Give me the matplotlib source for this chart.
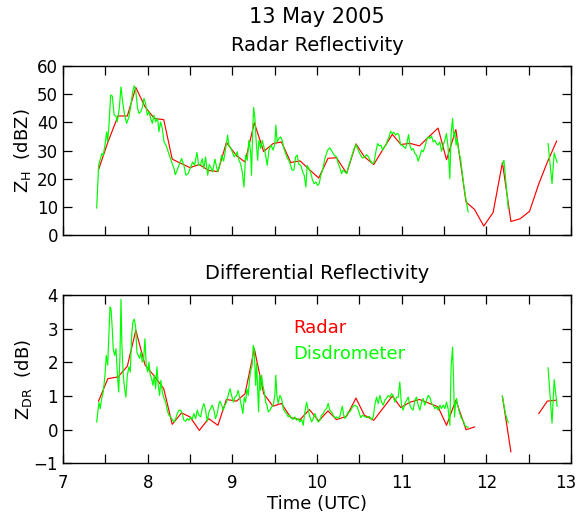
import numpy as np
import matplotlib
matplotlib.use("Agg")
import matplotlib.pyplot as plt
from matplotlib.ticker import MultipleLocator
from matplotlib.transforms import ScaledTranslation

nan = np.nan

# radar volume times (UTC hours) and values
radar_t = [7.42, 7.53, 7.65, 7.76, 7.86, 7.97, 8.08, 8.19, 8.29, 8.40,
           8.50, 8.61, 8.72, 8.83, 8.93, 9.05, 9.15, 9.26, 9.37, 9.48,
           9.58, 9.69, 9.80, 9.91, 10.02, 10.13, 10.23, 10.35, 10.46, 10.56,
           10.67, 10.78, 10.89, 10.99, 11.10, 11.21, 11.32, 11.43, 11.53, 11.64,
           11.76, 11.86, 11.97, 12.08, 12.19, 12.29, 12.40, 12.51, 12.62, 12.72,
           12.83]
radar_zh = [23.3, 33.0, 42.3, 42.3, 52.4, 45.5, 41.4, 41.0, 27.0, 25.4,
            24.0, 25.1, 23.0, 22.6, 32.9, 28.2, 26.0, 39.9, 29.7, 32.5,
            33.1, 25.8, 26.4, 23.3, 20.3, 27.3, 27.5, 22.0, 32.4, 27.8,
            25.1, 30.5, 35.8, 32.2, 32.6, 31.7, 34.9, 38.0, 26.8, 37.5,
            11.8, 9.2, 3.3, 8.1, 25.8, 4.9, 5.9, 8.5, 18.3, 25.9,
            33.4]
radar_zdr = [0.85, 1.52, 1.57, 1.89, 2.96, 1.92, 1.59, 1.22, 0.16, 0.50,
             0.38, -0.02, 0.33, 0.13, 0.90, 0.85, 1.07, 2.41, 1.07, 0.70,
             0.78, 0.36, 0.30, 0.60, 0.26, 0.56, 0.30, 0.40, 0.94, 0.43,
             0.28, 0.64, 1.00, 0.66, 0.82, 0.90, 0.79, 0.68, 0.13, 0.88,
             0.00, 0.08, nan, nan, 0.99, -0.66, nan, nan, 0.48, 0.85,
             0.88]

# disdrometer Z_H
dis_t_zh = [7.398, 7.421, 7.437, 7.460, 7.475, 7.496, 7.516, 7.528, 7.543, 7.563,
            7.582, 7.605, 7.626, 7.641, 7.665, 7.685, 7.705, 7.728, 7.752, 7.779,
            7.799, 7.823, 7.842, 7.858, 7.881, 7.898, 7.918, 7.936, 7.956, 7.976,
            7.995, 8.015, 8.036, 8.055, 8.074, 8.094, 8.118, 8.133, 8.153, 8.173,
            8.193, 8.216, 8.236, 8.263, 8.290, 8.311, 8.326, 8.349, 8.373, 8.401,
            8.428, 8.452, 8.479, 8.508, 8.531, 8.554, 8.582, 8.602, 8.626, 8.644,
            8.664, 8.684, 8.709, 8.727, 8.744, 8.767, 8.794, 8.826, 8.850, 8.874,
            8.897, 8.924, 8.944, 8.959, 8.984, 8.999, 9.022, 9.042, 9.058, 9.078,
            9.097, 9.117, 9.137, 9.157, 9.176, 9.196, 9.216, 9.227, 9.239, 9.252,
            9.267, 9.282, 9.299, 9.314, 9.334, 9.353, 9.373, 9.393, 9.412, 9.432,
            9.456, 9.482, 9.502, 9.514, 9.530, 9.550, 9.570, 9.589, 9.609, 9.629,
            9.652, 9.668, 9.688, 9.707, 9.727, 9.747, 9.766, 9.786, 9.810, 9.830,
            9.849, 9.869, 9.884, 9.904, 9.928, 9.948, 9.967, 9.987, 10.007, 10.026,
            10.045, 10.066, 10.093, 10.125, 10.152, 10.179, 10.203, 10.231, 10.250, 10.270,
            10.290, 10.309, 10.330, 10.350, 10.377, 10.408, 10.435, 10.460, 10.487, 10.515,
            10.538, 10.565, 10.585, 10.609, 10.633, 10.656, 10.675, 10.695, 10.715, 10.735,
            10.755, 10.774, 10.793, 10.813, 10.833, 10.852, 10.869, 10.888, 10.908, 10.928,
            10.947, 10.967, 10.987, 11.006, 11.026, 11.046, 11.065, 11.081, 11.097, 11.116,
            11.135, 11.156, 11.176, 11.195, 11.215, 11.235, 11.253, 11.274, 11.294, 11.313,
            11.333, 11.353, 11.372, 11.391, 11.411, 11.431, 11.451, 11.471, 11.490, 11.510,
            11.529, 11.548, 11.569, 11.584, 11.601, 11.616, 11.628, 11.643, 11.655, 11.675,
            11.695, 11.714, 11.734, 11.758, 11.785,
            11.95, 12.188, 12.208, 12.259,
            12.50, 12.729, 12.776, 12.801, 12.836]
dis_zh = [9.7, 24.8, 26.6, 29.0, 28.4, 32.0, 36.7, 33.1, 39.0, 49.7,
          49.4, 42.6, 42.3, 40.2, 45.0, 52.6, 47.3, 42.6, 39.7, 42.0,
          45.5, 50.9, 53.0, 51.5, 45.0, 43.2, 43.8, 45.2, 48.5, 46.8,
          42.6, 43.8, 41.4, 39.7, 42.6, 40.2, 41.4, 36.7, 40.2, 37.9,
          33.1, 32.0, 30.2, 27.8, 25.4, 23.7, 21.5, 23.1, 25.1, 27.2,
          24.8, 21.3, 21.9, 24.2, 26.0, 24.8, 29.4, 24.8, 25.1, 27.2,
          23.7, 27.8, 21.3, 25.1, 24.2, 22.5, 27.0, 22.5, 24.8, 28.4,
          26.3, 31.3, 35.5, 32.0, 30.8, 29.6, 27.8, 28.6, 29.6, 26.6,
          25.4, 22.5, 17.1, 28.4, 26.6, 33.7, 29.6, 21.3, 36.7, 45.3,
          41.4, 33.1, 26.6, 33.7, 30.8, 33.7, 31.3, 28.4, 24.8, 30.2,
          32.0, 30.2, 32.5, 39.0, 33.1, 34.3, 34.9, 33.7, 30.8, 29.0,
          27.2, 26.6, 24.8, 23.1, 23.1, 27.8, 28.4, 25.1, 24.8, 22.5,
          21.3, 17.1, 24.8, 23.7, 21.9, 19.5, 18.3, 18.9, 17.7, 18.3,
          21.3, 23.1, 27.2, 30.2, 31.0, 29.6, 28.4, 27.8, 25.4, 24.0,
          21.9, 23.1, 22.5, 21.9, 24.8, 27.8, 30.5, 32.2, 30.2, 28.4,
          27.4, 27.8, 28.6, 27.8, 26.3, 25.4, 26.0, 29.6, 32.5, 31.7,
          32.0, 30.2, 31.3, 32.0, 33.7, 34.9, 36.9, 36.1, 36.5, 35.5,
          36.1, 35.7, 32.0, 32.0, 31.3, 30.8, 33.1, 35.7, 32.0, 30.2,
          30.8, 29.0, 28.4, 26.3, 28.1, 30.2, 29.6, 31.3, 33.7, 34.9,
          34.3, 35.2, 33.1, 33.7, 32.5, 32.0, 33.1, 29.8, 32.0, 33.7,
          36.1, 31.3, 20.1, 36.1, 41.4, 34.9, 36.7, 32.0, 34.3, 29.6,
          27.2, 22.5, 17.7, 13.0, 8.3,
          nan, 25.0, 26.6, 9.5,
          nan, 32.5, 18.3, 29.2, 25.8]

# disdrometer Z_DR
dis_t_zdr = [7.398, 7.425, 7.440, 7.457, 7.475, 7.496, 7.511, 7.528, 7.543, 7.555,
             7.567, 7.582, 7.593, 7.610, 7.626, 7.641, 7.658, 7.673, 7.685, 7.696,
             7.712, 7.728, 7.743, 7.760, 7.779, 7.795, 7.811, 7.826, 7.842, 7.858,
             7.873, 7.889, 7.906, 7.921, 7.936, 7.953, 7.968, 7.983, 8.000, 8.015,
             8.031, 8.047, 8.063, 8.078, 8.094, 8.110, 8.125, 8.141, 8.156, 8.173,
             8.193, 8.213, 8.231, 8.251, 8.271, 8.290, 8.311, 8.331, 8.349, 8.369,
             8.389, 8.408, 8.428, 8.449, 8.468, 8.488, 8.508, 8.526, 8.546, 8.567,
             8.586, 8.606, 8.626, 8.644, 8.664, 8.684, 8.704, 8.724, 8.744, 8.763,
             8.783, 8.802, 8.821, 8.842, 8.854, 8.874, 8.893, 8.912, 8.932, 8.951,
             8.972, 8.992, 9.011, 9.031, 9.051, 9.069, 9.089, 9.110, 9.125, 9.141,
             9.157, 9.172, 9.188, 9.204, 9.219, 9.234, 9.247, 9.259, 9.275, 9.287,
             9.299, 9.310, 9.322, 9.334, 9.346, 9.361, 9.377, 9.393, 9.409, 9.424,
             9.444, 9.464, 9.483, 9.502, 9.514, 9.526, 9.542, 9.562, 9.582, 9.601,
             9.621, 9.641, 9.660, 9.680, 9.700, 9.719, 9.739, 9.759, 9.778, 9.798,
             9.818, 9.837, 9.857, 9.877, 9.896, 9.916, 9.937, 9.955, 9.975, 9.995,
             10.014, 10.034, 10.054, 10.074, 10.093, 10.113, 10.132, 10.152, 10.172, 10.192,
             10.212, 10.231, 10.250, 10.270, 10.299, 10.314, 10.330, 10.350, 10.369, 10.388,
             10.421, 10.447, 10.475, 10.495, 10.515, 10.538, 10.565, 10.593, 10.617, 10.645,
             10.664, 10.683, 10.703, 10.723, 10.743, 10.763, 10.782, 10.801, 10.821, 10.840,
             10.861, 10.881, 10.900, 10.920, 10.939, 10.959, 10.978, 10.998, 11.018, 11.038,
             11.058, 11.077, 11.097, 11.116, 11.135, 11.156, 11.176, 11.195, 11.215, 11.235,
             11.253, 11.274, 11.294, 11.313, 11.333, 11.353, 11.372, 11.391, 11.411, 11.431,
             11.451, 11.471, 11.490, 11.510, 11.529, 11.548, 11.569, 11.584, 11.601, 11.613,
             11.624, 11.636, 11.648, 11.666, 11.686, 11.707, 11.726, 11.746, 11.766, 11.785,
             11.95, 12.188, 12.228, 12.259,
             12.50, 12.729, 12.776, 12.801, 12.836]
dis_zdr = [0.23, 0.81, 0.63, 0.93, 1.12, 1.62, 2.21, 1.92, 2.91, 3.65,
           3.60, 3.01, 2.41, 2.21, 2.41, 1.72, 1.12, 2.21, 3.88, 2.51,
           1.62, 1.22, 0.97, 1.62, 1.87, 1.72, 2.81, 3.21, 3.29, 3.06,
           2.31, 2.21, 2.12, 2.31, 2.01, 2.12, 2.71, 1.92, 1.72, 2.01,
           1.62, 1.52, 1.32, 1.62, 1.22, 1.87, 1.32, 1.02, 1.47, 1.12,
           0.93, 0.82, 0.58, 0.43, 0.38, 0.31, 0.23, 0.33, 0.48, 0.58,
           0.58, 0.48, 0.28, 0.25, 0.33, 0.28, 0.38, 0.31, 0.48, 0.33,
           0.58, 0.43, 0.38, 0.63, 0.78, 0.58, 0.25, 0.53, 0.63, 0.73,
           0.58, 0.33, 0.48, 0.78, 0.85, 0.73, 0.58, 0.73, 0.82, 1.02,
           1.22, 1.02, 0.82, 0.97, 1.02, 1.17, 0.93, 0.68, 0.48, 0.97,
           0.82, 1.22, 1.02, 1.52, 1.77, 1.92, 2.51, 2.41, 1.32, 1.97,
           1.22, 0.53, 1.62, 1.17, 1.62, 1.32, 1.12, 0.82, 0.73, 0.53,
           0.58, 0.68, 0.73, 1.02, 1.62, 1.02, 0.78, 1.02, 0.93, 0.63,
           0.53, 0.48, 0.38, 0.43, 0.33, 0.31, 0.38, 0.28, 0.33, 0.23,
           0.31, 0.13, 0.53, 0.82, 0.58, 0.38, 0.23, 0.33, 0.48, 0.33,
           0.23, 0.28, 0.43, 0.48, 0.58, 0.63, 0.78, 0.58, 0.53, 0.43,
           0.35, 0.38, 0.33, 0.40, 0.70, 0.45, 0.33, 0.43, 0.53, 0.53,
           0.68, 0.73, 0.68, 0.53, 0.36, 0.43, 0.38, 0.36, 0.40, 0.30,
           0.38, 0.73, 0.97, 0.78, 1.02, 0.82, 0.73, 0.88, 0.93, 1.02,
           0.97, 1.07, 1.02, 0.82, 0.97, 0.97, 1.42, 0.73, 0.58, 0.78,
           0.88, 0.97, 0.73, 0.63, 0.58, 0.88, 0.97, 0.73, 0.58, 0.82,
           0.93, 0.73, 0.88, 1.02, 0.97, 0.78, 0.73, 0.63, 0.68, 0.58,
           0.73, 0.63, 0.73, 0.63, 0.82, 0.63, 0.13, 1.87, 2.46, 1.47,
           0.38, 0.78, 0.93, 0.68, 0.48, 0.33, 0.28, 0.13, 0.08, 0.08,
           nan, 1.00, 0.45, 0.21,
           nan, 1.84, 0.20, 1.49, 0.70]

RED = "#ff0000"
GREEN = "#00ff00"

fig = plt.figure(figsize=(5.8, 5.15), dpi=100)
ax1 = fig.add_axes([0.1086, 0.5430, 0.8759, 0.3288])
ax2 = fig.add_axes([0.1086, 0.1004, 0.8759, 0.3262])

ax1.plot(radar_t, radar_zh, color=RED, lw=0.85)
ax1.plot(dis_t_zh, dis_zh, color=GREEN, lw=0.85)
ax2.plot(radar_t, radar_zdr, color=RED, lw=0.85)
ax2.plot(dis_t_zdr, dis_zdr, color=GREEN, lw=0.85)

ax1.set_ylim(0, 60)
ax1.set_yticks(range(0, 61, 10))
ax2.set_ylim(-1, 4)
ax2.set_yticks(range(-1, 5))

for ax in (ax1, ax2):
    ax.set_xlim(7, 13)
    ax.set_xticks(range(7, 14))
    ax.xaxis.set_minor_locator(MultipleLocator(0.5))
    ax.tick_params(which="both", direction="in", top=True, right=True,
                   length=6.5, width=0.9, labelsize=12)
    ax.tick_params(axis="y", pad=3.5)
    ax.tick_params(axis="x", pad=7.5)
    for s in ax.spines.values():
        s.set_linewidth(1.0)
ax1.tick_params(labelbottom=False)

# keep the last x label ("13") inside the figure edge
last = ax2.xaxis.get_major_ticks()[-1].label1
last.set_transform(last.get_transform() + ScaledTranslation(-4 / 72, 0, fig.dpi_scale_trans))

xc = 0.1086 + 0.8759 / 2
fig.text(xc, 0.967, "13 May 2005", ha="center", va="center", fontsize=15)
fig.text(xc, 0.911, "Radar Reflectivity", ha="center", va="center", fontsize=14)
fig.text(xc, 0.468, "Differential Reflectivity", ha="center", va="center", fontsize=14)
fig.text(xc, 0.021, "Time (UTC)", ha="center", va="center", fontsize=13)
fig.text(0.038, 0.7078, r"Z$_\mathregular{H}$  (dBZ)", rotation=90,
         ha="center", va="center", fontsize=13)
fig.text(0.040, 0.2635, r"Z$_\mathregular{DR}$  (dB)", rotation=90,
         ha="center", va="center", fontsize=13)

ax2.text(0.453, 0.805, "Radar", color=RED, fontsize=13,
         ha="left", va="center", transform=ax2.transAxes)
ax2.text(0.453, 0.651, "Disdrometer", color=GREEN, fontsize=13,
         ha="left", va="center", transform=ax2.transAxes)

fig.savefig("out.png", dpi=100)
